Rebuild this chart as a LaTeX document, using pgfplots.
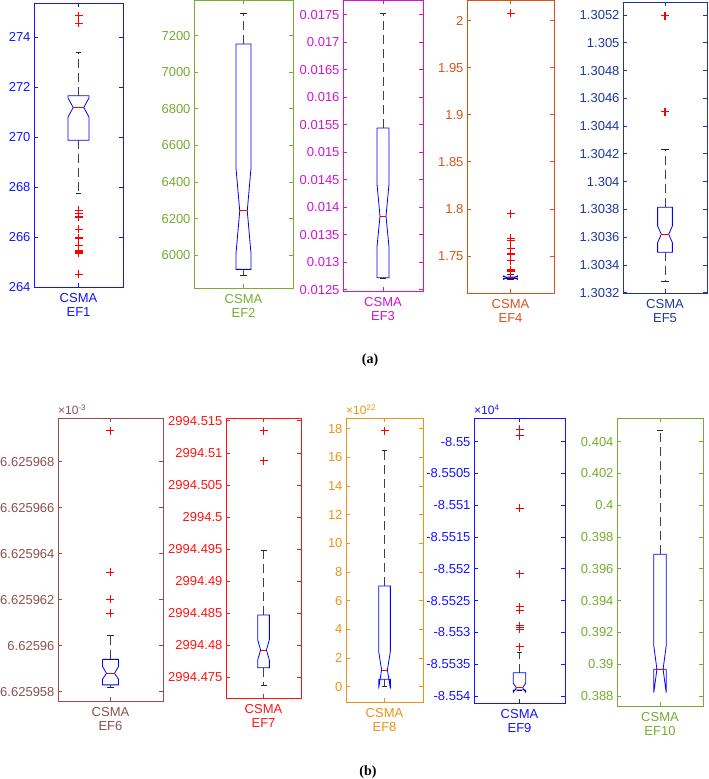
\documentclass[border=0pt]{standalone}
\usepackage{fontspec}
\setmainfont{Liberation Sans}
\newfontfamily\serifb{Liberation Serif}
\usepackage{pgfplots}
\pgfplotsset{compat=1.18}
\newcommand\tf{\fontsize{13}{15}\selectfont}
\newcommand\ef{\fontsize{12}{13}\selectfont}
\definecolor{c1}{RGB}{20,20,255}
\definecolor{c2}{RGB}{119,172,48}
\definecolor{c3}{RGB}{210,20,210}
\definecolor{c4}{RGB}{217,83,25}
\definecolor{c5}{RGB}{31,56,158}
\definecolor{c6}{RGB}{140,80,80}
\definecolor{c7}{RGB}{255,20,20}
\definecolor{c8}{RGB}{232,148,22}
\definecolor{c9}{RGB}{20,20,255}
\definecolor{c10}{RGB}{119,172,48}
\definecolor{outc}{RGB}{255,0,0}
\pgfplotsset{
 efp/.style={
   scale only axis, anchor=south west, clip=false,
   xmin=0.5, xmax=1.5, xtick={1}, xticklabels={CSMA},
   axis line style={draw=#1, line width=0.8pt},
   tick style={draw=#1, line width=0.8pt},
   major tick length=4pt,
   tick label style={font=\tf, text=#1},
   xticklabel style={yshift=-3pt},
   xlabel style={font=\tf, text=#1, yshift=2pt},
   scaled y ticks=false,
 },
 boxp/.style={blue, line width=0.8pt},
 med/.style={red, line width=0.8pt},
 whisk/.style={black!75, line width=0.8pt, dash pattern=on 9pt off 5pt},
 cap/.style={black!85, line width=0.8pt},
 outl/.style={outc, only marks, mark=+, mark size=4pt, line width=1.1pt},
}
\begin{document}
\begin{tikzpicture}
\path[use as bounding box] (0,0) rectangle (709pt,779pt);
% ---------- EF1
\begin{axis}[efp=c1, at={(34pt,492pt)}, width=89pt, height=284pt,
  ymin=264, ymax=275.36, ytick={264,266,268,270,272,274},
  yticklabels={264,266,268,270,272,274}, xlabel={EF1}]
\addplot[boxp] coordinates {(0.882,271.65) (1.118,271.65) (1.118,271.56) (1.059,271.18) (1.118,270.80) (1.118,269.87) (0.882,269.87) (0.882,270.80) (0.941,271.18) (0.882,271.56) (0.882,271.65)};
\addplot[med] coordinates {(0.941,271.18) (1.059,271.18)};
\addplot[whisk] coordinates {(1,271.65) (1,273.38)};
\addplot[whisk] coordinates {(1,269.87) (1,267.73)};
\addplot[cap] coordinates {(0.97,273.38) (1.03,273.38)};
\addplot[cap] coordinates {(0.97,267.73) (1.03,267.73)};
\addplot[outl] coordinates {(1,274.85) (1,274.55) (1,267.07) (1,266.94) (1,266.80) (1,266.30) (1,265.96) (1,265.67) (1,265.44) (1,265.36) (1,264.50)};
\end{axis}
% ---------- EF2
\begin{axis}[efp=c2, at={(194pt,491pt)}, width=99pt, height=287.5pt,
  ymin=5820, ymax=7393, ytick={6000,6200,6400,6600,6800,7000,7200},
  yticklabels={6000,6200,6400,6600,6800,7000,7200}, xlabel={EF2}]
\addplot[boxp] coordinates {(0.924,7155) (1.076,7155) (1.076,6477) (1.038,6242) (1.076,6007) (1.076,5922) (0.924,5922) (0.924,6007) (0.962,6242) (0.924,6477) (0.924,7155)};
\addplot[med] coordinates {(0.962,6242) (1.038,6242)};
\addplot[whisk] coordinates {(1,7155) (1,7322)};
\addplot[whisk] coordinates {(1,5922) (1,5887)};
\addplot[cap] coordinates {(0.966,7322) (1.034,7322)};
\addplot[cap] coordinates {(0.966,5887) (1.034,5887)};
\end{axis}
% ---------- EF3
\begin{axis}[efp=c3, at={(343pt,488pt)}, width=80pt, height=290.5pt,
  ymin=0.012478, ymax=0.01776,
  ytick={0.0125,0.013,0.0135,0.014,0.0145,0.015,0.0155,0.016,0.0165,0.017,0.0175},
  yticklabels={0.0125,0.013,0.0135,0.014,0.0145,0.015,0.0155,0.016,0.0165,0.017,0.0175}, xlabel={EF3}]
\addplot[boxp] coordinates {(0.925,0.01544) (1.075,0.01544) (1.075,0.01442) (1.0375,0.01384) (1.075,0.01328) (1.075,0.01272) (0.925,0.01272) (0.925,0.01328) (0.9625,0.01384) (0.925,0.01442) (0.925,0.01544)};
\addplot[med] coordinates {(0.9625,0.01384) (1.0375,0.01384)};
\addplot[whisk] coordinates {(1,0.01544) (1,0.01752)};
\addplot[whisk] coordinates {(1,0.01272) (1,0.01270)};
\addplot[cap] coordinates {(0.965,0.01752) (1.035,0.01752)};
\addplot[cap] coordinates {(0.965,0.01270) (1.035,0.01270)};
\end{axis}
% ---------- EF4
\begin{axis}[efp=c4, at={(467pt,486pt)}, width=87pt, height=292.5pt,
  ymin=1.7107, ymax=2.0215, ytick={1.75,1.8,1.85,1.9,1.95,2},
  yticklabels={1.75,1.8,1.85,1.9,1.95,2}, xlabel={EF4}]
\addplot[whisk] coordinates {(1,1.7278) (1,1.7305)};
\addplot[cap] coordinates {(0.965,1.7305) (1.035,1.7305)};
\addplot[cap] coordinates {(0.965,1.7255) (1.035,1.7255)};
\addplot[boxp] coordinates {(0.92,1.7278) (1.08,1.7278) (1.08,1.7288) (1.04,1.7270) (1.08,1.7252) (1.08,1.7262) (0.92,1.7262) (0.92,1.7252) (0.96,1.7270) (0.92,1.7288) (0.92,1.7278)};
\addplot[med] coordinates {(0.96,1.7270) (1.04,1.7270)};
\addplot[outl] coordinates {(1,2.0079) (1,1.7950) (1,1.7688) (1,1.7667) (1,1.7582) (1,1.7521) (1,1.7450) (1,1.7351) (1,1.7333)};
\end{axis}
% ---------- EF5
\begin{axis}[efp=c5, at={(623pt,486pt)}, width=84pt, height=291pt,
  ymin=-0.02, ymax=20.94, ytick={0,2,4,6,8,10,12,14,16,18,20},
  yticklabels={1.3032,1.3034,1.3036,1.3038,1.304,1.3042,1.3044,1.3046,1.3048,1.305,1.3052}, xlabel={EF5}]
\addplot[boxp] coordinates {(0.912,6.15) (1.088,6.15) (1.088,4.81) (1.044,4.21) (1.088,3.61) (1.088,2.91) (0.912,2.91) (0.912,3.61) (0.956,4.21) (0.912,4.81) (0.912,6.15)};
\addplot[med] coordinates {(0.956,4.21) (1.044,4.21)};
\addplot[whisk] coordinates {(1,6.15) (1,10.35)};
\addplot[whisk] coordinates {(1,2.91) (1,0.79)};
\addplot[cap] coordinates {(0.955,10.35) (1.045,10.35)};
\addplot[cap] coordinates {(0.955,0.79) (1.045,0.79)};
\addplot[outl] coordinates {(1,19.95) (1,13.04)};
\end{axis}
% ---------- EF6
\begin{axis}[efp=c6, at={(58pt,78pt)}, width=105pt, height=283pt,
  ymin=-0.40, ymax=11.9, ytick={0,2,4,6,8,10},
  yticklabels={6.625958,6.62596,6.625962,6.625964,6.625966,6.625968}, xlabel={EF6}]
\addplot[boxp] coordinates {(0.924,1.41) (1.076,1.41) (1.076,1.10) (1.038,0.80) (1.076,0.55) (1.076,0.30) (0.924,0.30) (0.924,0.55) (0.962,0.80) (0.924,1.10) (0.924,1.41)};
\addplot[med] coordinates {(0.962,0.80) (1.038,0.80)};
\addplot[whisk] coordinates {(1,1.41) (1,2.43)};
\addplot[whisk] coordinates {(1,0.30) (1,0.17)};
\addplot[cap] coordinates {(0.968,2.43) (1.032,2.43)};
\addplot[cap] coordinates {(0.968,0.17) (1.032,0.17)};
\addplot[outl] coordinates {(1,11.35) (1,5.19) (1,4.03) (1,3.41)};
\node[anchor=south west, inner sep=0pt, text=c6, font=\ef] at (rel axis cs:0,1) [yshift=3pt] {×10\textsuperscript{-3}};
\end{axis}
% ---------- EF7
\begin{axis}[efp=c7, at={(226pt,81pt)}, width=75pt, height=280pt,
  ymin=1.77, ymax=45.45, ytick={5,10,15,20,25,30,35,40,45},
  yticklabels={2994.475,2994.48,2994.485,2994.49,2994.495,2994.5,2994.505,2994.51,2994.515}, xlabel={EF7}]
\addplot[boxp] coordinates {(0.922,14.72) (1.078,14.72) (1.078,10.86) (1.039,9.26) (1.078,7.66) (1.078,6.5) (0.922,6.5) (0.922,7.66) (0.961,9.26) (0.922,10.86) (0.922,14.72)};
\addplot[med] coordinates {(0.961,9.26) (1.039,9.26)};
\addplot[whisk] coordinates {(1,14.72) (1,24.75)};
\addplot[whisk] coordinates {(1,6.5) (1,3.8)};
\addplot[cap] coordinates {(0.96,24.75) (1.04,24.75)};
\addplot[cap] coordinates {(0.96,3.8) (1.04,3.8)};
\addplot[outl] coordinates {(1,43.47) (1,38.8)};
\end{axis}
% ---------- EF8
\begin{axis}[efp=c8, at={(346pt,77pt)}, width=77pt, height=284pt,
  ymin=-1.07, ymax=18.76, ytick={0,2,4,6,8,10,12,14,16,18},
  yticklabels={0,2,4,6,8,10,12,14,16,18}, xlabel={EF8}]
\addplot[boxp] coordinates {(0.924,7.03) (1.076,7.03) (1.076,2.47) (1.038,1.17) (1.076,-0.13) (1.076,0.52) (0.924,0.52) (0.924,-0.13) (0.962,1.17) (0.924,2.47) (0.924,7.03)};
\addplot[med] coordinates {(0.962,1.17) (1.038,1.17)};
\addplot[whisk] coordinates {(1,7.03) (1,16.48)};
\addplot[whisk] coordinates {(1,0.52) (1,0.05)};
\addplot[cap] coordinates {(0.965,16.48) (1.035,16.48)};
\addplot[cap] coordinates {(0.965,0.05) (1.035,0.05)};
\addplot[outl] coordinates {(1,17.88)};
\node[anchor=south west, inner sep=0pt, text=c8, font=\ef] at (rel axis cs:0,1) [yshift=3pt] {×10\textsuperscript{22}};
\end{axis}
% ---------- EF9
\begin{axis}[efp=c9, at={(474pt,76pt)}, width=91pt, height=285pt,
  ymin=-1.10, ymax=43.72, ytick={0,5,10,15,20,25,30,35,40},
  yticklabels={-8.554,-8.5535,-8.553,-8.5525,-8.552,-8.5515,-8.551,-8.5505,-8.55}, xlabel={EF9}]
\addplot[whisk] coordinates {(1,3.66) (1,6.81)};
\addplot[cap] coordinates {(0.97,6.81) (1.03,6.81)};
\addplot[cap] coordinates {(0.97,0.90) (1.03,0.90)};
\addplot[boxp] coordinates {(0.932,3.66) (1.068,3.66) (1.068,2.0) (1.034,1.31) (1.068,0.60) (1.068,0.94) (0.932,0.94) (0.932,0.60) (0.966,1.31) (0.932,2.0) (0.932,3.66)};
\addplot[med] coordinates {(0.966,1.31) (1.034,1.31)};
\addplot[outl] coordinates {(1,41.94) (1,40.9) (1,29.5) (1,19.2) (1,14.05) (1,13.5) (1,11.06) (1,10.8) (1,10.5) (1,7.75)};
\node[anchor=south west, inner sep=0pt, text=c9, font=\ef] at (rel axis cs:0,1) [yshift=3pt] {×10\textsuperscript{4}};
\end{axis}
% ---------- EF10
\begin{axis}[efp=c10, at={(617pt,73pt)}, width=86pt, height=288pt,
  ymin=0.38737, ymax=0.40549,
  ytick={0.388,0.39,0.392,0.394,0.396,0.398,0.4,0.402,0.404},
  yticklabels={0.388,0.39,0.392,0.394,0.396,0.398,0.4,0.402,0.404}, xlabel={EF10}]
\addplot[boxp] coordinates {(0.928,0.39692) (1.072,0.39692) (1.072,0.39115) (1.036,0.38968) (1.072,0.38821) (1.072,0.38968) (0.928,0.38968) (0.928,0.38821) (0.964,0.38968) (0.928,0.39115) (0.928,0.39692)};
\addplot[med] coordinates {(0.964,0.38968) (1.036,0.38968)};
\addplot[whisk] coordinates {(1,0.39692) (1,0.40469)};
\addplot[cap] coordinates {(0.965,0.40469) (1.035,0.40469)};
\end{axis}
\node[font=\serifb\bfseries\fontsize{14}{16}\selectfont] at (370pt,419pt) {(a)};
\node[font=\serifb\bfseries\fontsize{14}{16}\selectfont] at (368pt,7pt) {(b)};
\end{tikzpicture}
\end{document}
